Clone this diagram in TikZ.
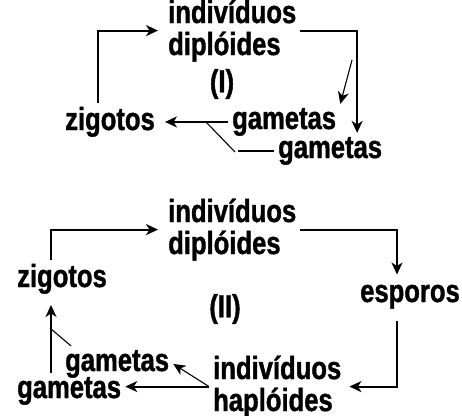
\documentclass[tikz,border=0pt]{standalone}
\usepackage{fontspec}
\setmainfont{Liberation Sans}[FakeStretch=0.8, BoldFeatures={FakeBold=1.2}]
\usetikzlibrary{arrows.meta}

\begin{document}
\begin{tikzpicture}[x=1pt,y=-1pt,
  lbl/.style={font=\fontsize{32}{32}\selectfont\bfseries, inner sep=4pt, align=left, anchor=base west},
  arr/.style={line width=1.9pt, -{Stealth[length=12pt,width=11pt,inset=3.5pt]}},
  thinarr/.style={line width=1.1pt, -{Stealth[length=12pt,width=11pt,inset=3.5pt]}},
  link/.style={line width=1.9pt},
  thinlink/.style={line width=1.1pt}]
\useasboundingbox (0,0) rectangle (462,415);

% cycle (I)
\node[lbl] (dip1) at (164,55) {indivíduos\\diplóides};
\node[lbl, anchor=center] (num1) at (222,84) {(I)};
\node[lbl] (zig1) at (61,130) {zigotos};
\node[lbl] (gamA1) at (228,129) {gametas};
\node[lbl] (gamB1) at (274,158) {gametas};
\coordinate (s1) at (352,60);
\coordinate (j1) at (206,122);

\path[draw,arr,shorten >=6pt] ([xshift=-12pt]zig1.north) |- (dip1.west);
\path[draw,arr] (dip1.east) -| ([xshift=27pt]gamB1.north);
\path[draw,thinarr] (s1) -- (gamA1.north east);
\path[draw,arr,shorten >=6pt] (gamA1.west) -- (gamA1.west -| zig1.east);
\path[draw,thinlink] (j1) -- ++(29,30);
\path[draw,link] (gamB1.west) -- ++(-36,0);

% cycle (II)
\node[lbl] (dip2) at (164,254) {indivíduos\\diplóides};
\node[lbl, anchor=center] (num2) at (225,309) {(II)};
\node[lbl] (zig2) at (13,287) {zigotos};
\node[lbl] (esp2) at (356,302) {esporos};
\node[lbl] (hap2) at (209,411) {indivíduos\\haplóides};
\node[lbl] (gamA2) at (61,371) {gametas};
\node[lbl] (gamB2) at (13,398) {gametas};
\coordinate (j2) at (50,328);

\path[draw,arr,shorten >=6pt] ([xshift=-11pt]zig2.north) |- (dip2.west);
\path[draw,arr,shorten >=6pt] (dip2.east) -| ([xshift=-13pt]esp2.north);
\path[draw,arr,shorten <=8pt,shorten >=4pt] ([xshift=-13pt]esp2.south) |- (hap2.east);
\path[draw,arr] (hap2.west) -- (hap2.west -| gamB2.east);
\path[draw,thinarr] (hap2.west) -- (gamA2.east);
\path[draw,arr,shorten >=7pt] ([xshift=-11pt]zig2.south |- gamB2.north) -- ([xshift=-11pt]zig2.south);
\path[draw,thinlink] (j2) -- ([xshift=10pt]gamA2.north west);
\end{tikzpicture}
\end{document}
